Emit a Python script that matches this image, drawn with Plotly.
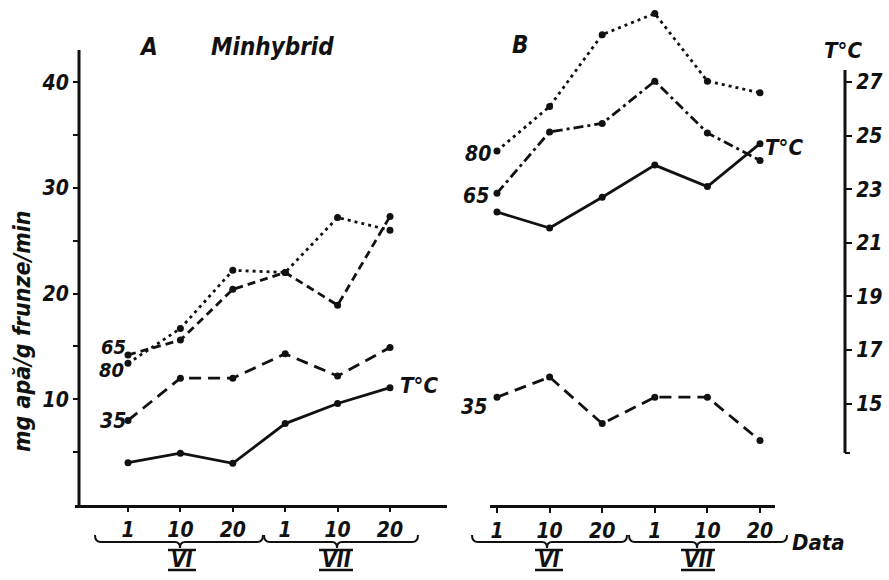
import plotly.graph_objects as go

W, H = 889, 580

# ---------------- data ----------------
dates = ["1", "10", "20", "1", "10", "20"]
months = ["VI", "VII"]
xpos = [0, 1, 2, 3, 4, 5]

# Panel A (Minhybrid)
a_temp = [4.0, 4.9, 3.95, 7.7, 9.6, 11.1]
a_35 = [8.0, 12.0, 12.0, 14.3, 12.2, 14.9]
a_65 = [14.2, 15.6, 20.4, 22.0, 18.9, 27.3]
a_80 = [13.4, 16.7, 22.2, 22.0, 27.2, 26.0]

# Panel B
b_temp = [22.15, 21.55, 22.7, 23.9, 23.1, 24.7]
b_35 = [10.2, 12.1, 7.7, 10.2, 10.2, 6.1]
b_65 = [29.5, 35.3, 36.1, 40.1, 35.2, 32.6]
b_80 = [33.5, 37.7, 44.5, 46.5, 40.1, 39.0]

y_ticks = [5, 10, 15, 20, 25, 30, 35, 40]
y_labels = ["", "10", "", "20", "", "30", "", "40"]
t_ticks = [15, 17, 19, 21, 23, 25, 27]

FONT = "Liberation Sans Narrow, DejaVu Sans Condensed, Liberation Sans, sans-serif"
INK = "#111111"


def px(x):
    return x / W


def py(y):
    return 1 - y / H


def it(s):
    return f"<b><i>{s}</i></b>"


fig = go.Figure()

LW = 2.8
MK = dict(size=7, color=INK)


def add_line(x_axis, y_axis, ys, dash):
    fig.add_trace(go.Scatter(
        x=xpos, y=ys, xaxis=x_axis, yaxis=y_axis, mode="lines+markers",
        line=dict(color=INK, width=LW, dash=dash), marker=MK,
        showlegend=False, hoverinfo="skip", cliponaxis=False))


# panel A
add_line("x", "y", a_temp, "solid")
add_line("x", "y", a_35, "12px,7px")
add_line("x", "y", a_65, "8px,5px")
add_line("x", "y", a_80, "3px,4px")
# panel B
add_line("x2", "y2", b_temp, "solid")
add_line("x2", "y", b_35, "12px,7px")
add_line("x2", "y", b_65, "10px,4px,3px,4px")
add_line("x2", "y", b_80, "3px,4px")

Y_BOT = 505
y_dom = [py(Y_BOT), 1]
y_top = Y_BOT / 10.57
t_bot = 27 - (Y_BOT - 82) / 26.8
t_top = 27 + 82 / 26.8

tickfont = dict(family=FONT, size=21, color=INK)

fig.update_layout(
    width=W, height=H, margin=dict(l=0, r=0, t=0, b=0),
    paper_bgcolor="white", plot_bgcolor="rgba(0,0,0,0)",
    showlegend=False,
    font=dict(family=FONT, color=INK),
    xaxis=dict(domain=[px(75), px(447)], range=[-53 / 52.4, 5 + 57 / 52.4],
               anchor="y", showline=True, linecolor=INK, linewidth=2.5,
               tickvals=xpos, ticktext=[it(d) for d in dates], ticks="outside",
               ticklen=4, tickwidth=1.5, tickcolor=INK, showgrid=False,
               zeroline=False, tickfont=tickfont),
    xaxis2=dict(domain=[px(490), px(775)], range=[-7 / 52.6, 5 + 15 / 52.6],
                anchor="y", showline=True, linecolor=INK, linewidth=2.5,
                tickvals=xpos, ticktext=[it(d) for d in dates], ticks="outside",
                ticklen=5, tickwidth=1.5, tickcolor=INK, showgrid=False,
                zeroline=False, tickfont=tickfont),
    yaxis=dict(domain=y_dom, range=[0, y_top], anchor="free", position=px(79),
               showline=False, tickvals=y_ticks,
               ticktext=[it(t) if t else "" for t in y_labels],
               ticks="outside", ticklen=6, tickwidth=2, tickcolor=INK,
               showgrid=False, zeroline=False, tickfont=tickfont),
    yaxis2=dict(domain=y_dom, range=[t_bot, t_top], overlaying="y", anchor="free",
                position=px(845), side="right", showline=False,
                tickvals=t_ticks, ticktext=[it(t) for t in t_ticks],
                ticks="outside", ticklen=6, tickwidth=2, tickcolor=INK,
                showgrid=False, zeroline=False, tickfont=tickfont),
)

shapes = []
# axis lines (left and temperature axis)
shapes.append(dict(type="line", xref="paper", yref="paper", x0=px(79), x1=px(79),
                   y0=py(50), y1=py(Y_BOT), line=dict(color=INK, width=3)))
shapes.append(dict(type="line", xref="paper", yref="paper", x0=px(845), x1=px(845),
                   y0=py(70), y1=py(453), line=dict(color=INK, width=3)))
shapes.append(dict(type="line", xref="paper", yref="paper", x0=px(845), x1=px(850),
                   y0=py(453), y1=py(453), line=dict(color=INK, width=2)))


def P(x, y):
    return f"{px(x):.5f},{py(y):.5f}"


def brace(x0, x1, xm, ytop, yl, ytip):
    path = (f"M{P(x0, ytop)} Q{P(x0, yl)} {P(x0 + 6, yl)} L{P(xm - 5, yl)} "
            f"Q{P(xm, yl)} {P(xm, ytip)} Q{P(xm, yl)} {P(xm + 5, yl)} "
            f"L{P(x1 - 6, yl)} Q{P(x1, yl)} {P(x1, ytop)}")
    return dict(type="path", xref="paper", yref="paper", path=path,
                line=dict(color=INK, width=2))


shapes += [brace(95, 263, 180, 535, 542, 548), brace(264, 418, 337, 535, 542, 548),
           brace(472, 627, 547, 535, 542, 548), brace(629, 787, 697, 535, 542, 548)]


def roman_bars(xc, half):
    out = []
    for yy in (550, 570):
        out.append(dict(type="line", xref="paper", yref="paper", x0=px(xc - half),
                        x1=px(xc + half), y0=py(yy), y1=py(yy),
                        line=dict(color=INK, width=2.5)))
    return out


shapes += roman_bars(182, 14) + roman_bars(336, 17) + roman_bars(549, 14) + roman_bars(698, 17)
fig.update_layout(shapes=shapes)

ann = []


def text(x, y, s, size=22, xanchor="center", angle=0):
    ann.append(dict(x=px(x), y=py(y), xref="paper", yref="paper", text=it(s),
                    showarrow=False, xanchor=xanchor, yanchor="middle",
                    font=dict(family=FONT, size=size, color=INK), textangle=angle))


text(148, 47, "A", size=24)
text(272, 47, "Minhybrid", size=24)
text(520, 45, "B", size=24)
text(843, 50, "T°C")
text(419, 385, "T°C")
text(784, 147, "T°C")
text(114, 347, "65", size=20)
text(111, 370, "80", size=20)
text(113, 421, "35", size=21)
text(478, 154, "80", size=21)
text(476, 196, "65", size=21)
text(474, 407, "35", size=21)
text(22, 331, "mg apă/g frunze/min", size=23, angle=-90)
text(818, 542, "Data")
text(182, 560, months[0], size=21)
text(336, 560, months[1], size=21)
text(549, 560, months[0], size=21)
text(698, 560, months[1], size=21)
fig.update_layout(annotations=ann)

fig.write_html("out.html", config={"displayModeBar": False},
               post_script="document.body.style.margin='0px';document.body.style.overflow='hidden';")
